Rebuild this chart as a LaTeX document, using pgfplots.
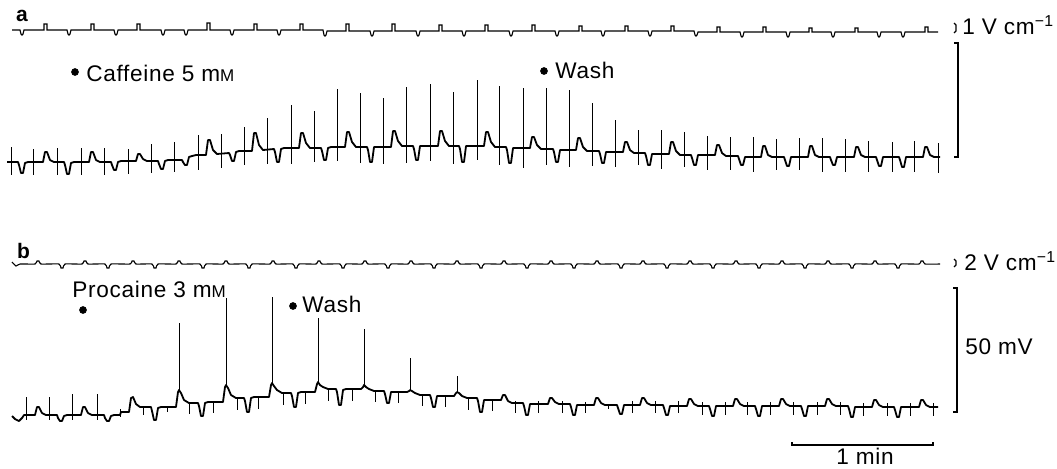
\documentclass[border=0pt]{standalone}
\usepackage{fontspec}
\setmainfont{Liberation Sans}[LetterSpace=3]
\usepackage{pgfplots}
\pgfplotsset{compat=1.18}
\newcommand{\mM}{m{\fontsize{8.5}{9}\selectfont M}}
\begin{document}
\begin{tikzpicture}
\begin{axis}[width=528.5pt, height=234pt, scale only axis, xmin=0, xmax=1057, ymin=0, ymax=468,
  y dir=reverse, axis lines=none, ticks=none, clip=false, enlargelimits=false]
\path (rel axis cs:0,0) rectangle (rel axis cs:1,1);
% ---------- panel a, top trace ----------
\addplot[black, line width=0.55pt] coordinates {
(12,30)(20,30)(21,34)(22,35)(23,34)(24,30)
(44,30)(44,24)(47,24)(47,30)
(67,30)(68,34)(69,35)(70,34)(71,30)
(91,30)(91,24)(94,24)(94,30)
(114,30)(115,34)(116,35)(117,34)(118,30)
(137,30)(137,24)(140,24)(140,30)
(161,30)(162,34)(163,35)(164,34)(165,30)
(184,30)(185,34)(186,35)(187,34)(188,30)
(207,30)(207,23)(210,23)(210,30)
(230,30)(231,34)(232,35)(233,34)(234,30)
(254,30)(254,24)(257,24)(257,30)
(277,30)(278,34)(279,35)(280,34)(281,30)
(300,30)(300,24)(303,24)(303,30)
(323,30)(324,35)(325,36)(326,35)(327,31)
(346,31)(346,24)(349,24)(349,31)
(370,31)(371,35)(372,36)(373,35)(374,31)
(392,31)(392,24)(395,24)(395,31)
(416,31)(417,35)(418,36)(419,35)(420,31)
(439,31)(439,25)(442,25)(442,31)
(462,31)(463,35)(464,36)(465,35)(466,31)
(485,31)(485,25)(488,25)(488,31)
(509,31)(510,35)(511,36)(512,35)(513,31)
(532,31)(532,25)(535,25)(535,31)
(555,31)(556,35)(557,36)(558,35)(559,31)
(579,31)(579,26)(582,26)(582,31)
(601,31)(602,35)(603,36)(604,35)(605,31)
(625,31)(625,26)(628,26)(628,31)
(648,31)(649,35)(650,36)(651,35)(652,31)
(671,31)(671,26)(674,26)(674,31)
(694,31)(695,35)(696,36)(697,35)(698,32)
(717,32)(717,27)(720,27)(720,32)
(740,32)(741,36)(742,37)(743,36)(744,32)
(763,32)(763,27)(766,27)(766,32)
(786,32)(787,36)(788,37)(789,36)(790,32)
(809,32)(809,28)(812,28)(812,32)
(831,32)(832,36)(833,37)(834,36)(835,32)
(855,32)(855,28)(858,28)(858,32)
(877,32)(878,36)(879,37)(880,36)(881,32)
(901,32)(902,36)(903,37)(904,36)(905,32)
(925,32)(925,27)(928,27)(928,32)
(938,32)};
% ---------- panel a, membrane trace ----------
\addplot[black, line width=0.9pt, line join=round] coordinates {
(7,162)
(18,162)(19,165)(21,173)(23,173)(25,163)(28,162)
(43,162)(45,152)(47,152)(50,160)(54,162)
(64,162)(65,165)(67,174)(69,174)(71,163)(74,162)
(89,162)(91,152)(93,152)(96,160)(100,162)
(111,162)(112,165)(114,170)(116,170)(118,162)(121,161)
(136,161)(138,154)(140,154)(143,159)(147,161)
(158,161)(159,164)(161,169)(163,169)(165,161)(168,160)
(182,160)(183,162)(185,165)(187,165)(189,157)(192,156)(196,155)
(206,155)(208,140)(210,140)(213,150)(217,154)
(229,153)(230,155)(232,161)(234,161)(236,152)(239,151)
(252,151)(254,133)(256,133)(259,145)(263,150)
(274,149)(275,152)(277,162)(279,162)(281,149)(284,148)
(299,148)(301,133)(303,133)(306,143)(310,148)
(321,148)(322,151)(324,160)(326,160)(328,148)(331,147)
(345,147)(347,132)(349,132)(352,142)(356,147)
(367,147)(368,150)(370,162)(372,162)(374,147)(377,147)
(391,147)(393,131)(395,131)(398,141)(402,146)
(413,146)(414,149)(416,160)(418,160)(420,146)(423,146)
(438,146)(440,131)(442,131)(445,141)(449,146)
(459,146)(460,149)(462,162)(464,162)(466,146)(469,146)
(484,146)(486,132)(488,132)(491,142)(495,147)
(506,147)(507,150)(509,163)(511,163)(513,148)(516,148)
(530,148)(532,137)(534,137)(537,145)(541,149)
(553,149)(554,152)(556,162)(558,162)(560,150)(563,150)
(576,150)(578,138)(580,138)(583,147)(587,151)
(599,151)(600,154)(602,163)(604,163)(606,152)(609,152)
(623,152)(625,142)(627,142)(630,150)(634,153)
(645,153)(646,156)(648,165)(650,165)(652,154)(655,154)
(669,154)(671,142)(673,142)(676,151)(680,155)
(691,155)(692,158)(694,165)(696,165)(698,155)(701,155)
(715,155)(717,145)(719,145)(722,153)(726,156)
(738,156)(739,159)(741,165)(743,165)(745,157)(748,157)
(761,157)(763,146)(765,146)(768,155)(772,157)
(784,157)(785,160)(787,166)(789,166)(791,157)(794,157)
(808,157)(810,146)(812,146)(815,155)(819,157)
(830,157)(831,160)(833,165)(835,165)(837,157)(840,157)
(854,157)(856,147)(858,147)(861,155)(865,157)
(876,157)(877,160)(879,166)(881,166)(883,157)(886,157)
(899,157)(900,160)(902,167)(904,167)(906,157)(909,157)
(923,157)(925,147)(927,147)(930,155)(934,157)
(940,157)};
% stimulus artefacts, panel a
\addplot[draw=none, mark=none, error bars/.cd, y dir=both, y explicit, error mark=none,
  error bar style={draw=black, solid, line width=0.45pt}] coordinates {
(11,162) += (0,13) -= (0,15)
(33,162) += (0,13) -= (0,13)
(57,162) += (0,13) -= (0,14)
(81,162) += (0,13) -= (0,14)
(104,162) += (0,13) -= (0,14)
(128,161) += (0,13) -= (0,12)
(151,161) += (0,12) -= (0,17)
(174,160) += (0,12) -= (0,18)
(198,155) += (0,15) -= (0,20)
(221,153) += (0,15) -= (0,19)
(244,151) += (0,14) -= (0,24)
(267,149) += (0,15) -= (0,31)
(291,148) += (0,16) -= (0,43)
(314,148) += (0,14) -= (0,37)
(337,147) += (0,14) -= (0,58)
(360,147) += (0,16) -= (0,54)
(383,147) += (0,17) -= (0,49)
(406,146) += (0,17) -= (0,59)
(430,146) += (0,15) -= (0,62)
(453,146) += (0,18) -= (0,54)
(477,146) += (0,14) -= (0,66)
(499,147) += (0,18) -= (0,61)
(523,148) += (0,20) -= (0,60)
(546,149) += (0,16) -= (0,61)
(569,150) += (0,17) -= (0,60)
(592,151) += (0,15) -= (0,48)
(615,152) += (0,15) -= (0,32)
(638,153) += (0,12) -= (0,23)
(661,154) += (0,15) -= (0,24)
(684,155) += (0,12) -= (0,23)
(707,155) += (0,15) -= (0,19)
(730,156) += (0,14) -= (0,19)
(753,157) += (0,15) -= (0,20)
(776,157) += (0,13) -= (0,18)
(799,157) += (0,13) -= (0,19)
(822,157) += (0,15) -= (0,19)
(845,157) += (0,15) -= (0,18)
(868,157) += (0,15) -= (0,16)
(892,157) += (0,15) -= (0,15)
(914,157) += (0,15) -= (0,16)
(938,157) += (0,16) -= (0,14)
};
% ---------- panel b, top trace ----------
\addplot[black, line width=0.55pt, smooth, tension=0.3] coordinates {
(12,262)(16,266)(20,264)
(35,264)(37,261)(39,261)(41,264)
(59,264)(61,268)(63,268)(65,264)
(82,264)(84,261)(86,261)(88,264)
(105,264)(107,268)(109,268)(111,264)
(130,264)(132,261)(134,261)(136,264)
(152,264)(154,268)(156,268)(158,264)
(176,264)(178,261)(180,261)(182,264)
(200,264)(202,268)(204,268)(206,264)
(223,264)(225,261)(227,261)(229,264)
(246,264)(248,268)(250,268)(252,264)
(270,264)(272,261)(274,261)(276,264)
(293,264)(295,268)(297,268)(299,264)
(316,264)(318,261)(320,261)(322,264)
(340,264)(342,268)(344,268)(346,264)
(362,264)(364,261)(366,261)(368,264)
(385,264)(387,268)(389,268)(391,264)
(408,264)(410,261)(412,261)(414,264)
(431,264)(433,268)(435,268)(437,264)
(454,264)(456,261)(458,261)(460,264)
(478,264)(480,268)(482,268)(484,264)
(501,264)(503,261)(505,261)(507,264)
(524,264)(526,268)(528,268)(530,264)
(548,264)(550,261)(552,261)(554,264)
(571,264)(573,268)(575,268)(577,264)
(594,264)(596,261)(598,261)(600,264)
(618,264)(620,268)(622,268)(624,264)
(640,264)(642,261)(644,261)(646,264)
(664,264)(666,268)(668,268)(670,264)
(687,264)(689,261)(691,261)(693,264)
(710,264)(712,268)(714,268)(716,264)
(733,264)(735,261)(737,261)(739,264)
(756,264)(758,268)(760,268)(762,264)
(779,264)(781,261)(783,261)(785,264)
(802,264)(804,268)(806,268)(808,264)
(825,264)(827,261)(829,261)(831,264)
(849,264)(851,268)(853,268)(855,264)
(872,264)(874,261)(876,261)(878,264)
(895,264)(897,268)(899,268)(901,264)
(919,264)(921,261)(923,261)(925,264)
(940,264)};
% ---------- panel b, membrane trace ----------
\addplot[black, line width=0.9pt, line join=round] coordinates {
(12,416)(15,419)(19,421)(22,418)(24,415)
(35,415)(37,407)(39,407)(42,413)(46,415)
(57,415)(58,418)(60,421)(62,421)(64,416)(67,415)
(81,415)(83,407)(85,407)(88,413)(92,415)
(104,415)(105,418)(107,421)(109,421)(111,416)(114,415)
(120,415)(121,412)
(129,412)(131,398)(133,397)(136,404)(140,407)
(151,407)(152,411)(154,420)(156,420)(158,408)(161,407)
(176,407)(178,392)(179,390)(181,393)(184,400)(189,403)
(198,403)(199,406)(201,416)(203,416)(205,403)(208,402)
(223,402)(225,387)(226,385)(228,388)(231,395)(236,398)
(244,398)(245,401)(247,412)(249,412)(251,398)(254,397)
(269,397)(271,385)(272,383)(274,386)(277,390)(282,393)
(291,393)(292,396)(294,407)(296,407)(298,393)(301,392)
(315,392)(317,384)(318,382)(320,385)(323,387)(328,389)
(336,389)(337,392)(339,405)(341,405)(343,390)(346,389)
(361,389)(363,387)(364,385)(366,387)(369,389)(374,391)
(384,391)(385,394)(387,403)(389,403)(391,392)(394,392)
(407,392)(409,391)(410,390)(412,391)(415,393)(420,395)
(430,395)(431,398)(433,407)(435,407)(437,396)(440,396)
(454,396)(456,393)(457,392)(459,393)(462,396)(467,398)
(477,398)(478,401)(480,412)(482,412)(484,400)(487,400)
(501,400)(503,395)(505,395)(508,401)(512,403)
(523,403)(524,406)(526,415)(528,415)(530,404)(533,404)
(548,404)(550,398)(552,398)(555,402)(559,404)
(570,404)(571,407)(573,415)(575,415)(577,405)(580,405)
(594,405)(596,398)(598,398)(601,403)(605,405)
(617,405)(618,408)(620,414)(622,414)(624,405)(627,405)
(640,405)(642,398)(644,398)(647,403)(651,405)
(663,405)(664,408)(666,415)(668,415)(670,406)(673,406)
(687,406)(689,399)(691,399)(694,404)(698,406)
(709,406)(710,409)(712,416)(714,416)(716,406)(719,406)
(733,406)(735,399)(737,399)(740,404)(744,406)
(755,406)(756,409)(758,416)(760,416)(762,406)(765,406)
(779,406)(781,399)(783,399)(786,404)(790,406)
(801,406)(802,409)(804,416)(806,416)(808,406)(811,406)
(825,406)(827,399)(829,399)(832,404)(836,406)
(848,406)(849,409)(851,417)(853,417)(855,407)(858,407)
(872,407)(874,400)(876,400)(879,405)(883,407)
(894,407)(895,410)(897,417)(899,417)(901,407)(904,407)
(919,407)(921,400)(923,400)(926,405)(930,407)
(938,407)};
% artefacts and spikes, panel b
\addplot[draw=none, mark=none, error bars/.cd, y dir=both, y explicit, error mark=none,
  error bar style={draw=black, solid, line width=0.45pt}] coordinates {
(26,415) += (0,5) -= (0,18)
(49,415) += (0,5) -= (0,18)
(72,415) += (0,5) -= (0,21)
(97,415) += (0,5) -= (0,21)
(120,413) += (0,4) -= (0,4)
(143,407) += (0,8) -= (0,1)
(167,407) += (0,5) -= (0,0)
(189,403) += (0,11) -= (0,1)
(213,402) += (0,11) -= (0,1)
(237,398) += (0,12) -= (0,1)
(258,397) += (0,12) -= (0,1)
(283,393) += (0,12) -= (0,1)
(305,392) += (0,12) -= (0,1)
(328,389) += (0,12) -= (0,1)
(352,389) += (0,12) -= (0,1)
(375,391) += (0,11) -= (0,1)
(398,392) += (0,11) -= (0,1)
(422,395) += (0,11) -= (0,1)
(445,396) += (0,11) -= (0,1)
(468,398) += (0,12) -= (0,1)
(492,400) += (0,11) -= (0,1)
(515,403) += (0,10) -= (0,2)
(538,404) += (0,9) -= (0,3)
(562,404) += (0,9) -= (0,3)
(585,405) += (0,8) -= (0,3)
(608,405) += (0,4) -= (0,0)
(632,405) += (0,8) -= (0,4)
(655,405) += (0,8) -= (0,4)
(678,405) += (0,8) -= (0,4)
(702,406) += (0,9) -= (0,4)
(725,406) += (0,9) -= (0,4)
(747,406) += (0,9) -= (0,4)
(770,406) += (0,9) -= (0,4)
(793,406) += (0,9) -= (0,4)
(817,406) += (0,9) -= (0,4)
(840,406) += (0,9) -= (0,4)
(863,407) += (0,9) -= (0,4)
(887,407) += (0,9) -= (0,4)
(910,407) += (0,9) -= (0,4)
(933,407) += (0,9) -= (0,4)
(179,390) += (0,0) -= (0,67)
(226,385) += (0,0) -= (0,87)
(272,383) += (0,0) -= (0,86)
(318,382) += (0,0) -= (0,64)
(364,385) += (0,0) -= (0,56)
(410,390) += (0,0) -= (0,32)
(457,392) += (0,0) -= (0,16)
};
% ---------- calibration bars ----------
\addplot[black, line width=0.6pt] coordinates {(954,23)(956,25)(956,31)(954,33)};
\addplot[black, line width=0.7pt] coordinates {(954,43)(958,43)(958,157)(954,157)};
\addplot[black, line width=0.6pt] coordinates {(954,259)(956,261)(956,265)(954,267)};
\addplot[black, line width=0.7pt] coordinates {(953,288)(957,288)(957,412)(953,412)};
\addplot[black, line width=0.7pt] coordinates {(792,442)(792,445)(933,445)(933,442)};
% ---------- event markers ----------
\addplot[only marks, mark=*, mark size=1.7pt, black] coordinates {(75,72)(544,71)(83,310)(293,306)};
% ---------- text ----------
\node[anchor=base west, font=\bfseries\fontsize{10.5}{12}\selectfont] at (axis cs:9,21) {a};
\node[anchor=base west, font=\bfseries\fontsize{10.5}{12}\selectfont] at (axis cs:10,258) {b};
\node[anchor=base west, inner sep=0pt, font=\fontsize{11.3}{13}\selectfont] at (axis cs:86,81) {Caffeine 5 \mM};
\node[anchor=base west, inner sep=0pt, font=\fontsize{11.3}{13}\selectfont] at (axis cs:555,78) {Wash};
\node[anchor=base west, inner sep=0pt, font=\fontsize{11.3}{13}\selectfont] at (axis cs:72,297) {Procaine 3 \mM};
\node[anchor=base west, inner sep=0pt, font=\fontsize{11.3}{13}\selectfont] at (axis cs:302,312) {Wash};
\node[anchor=base west, inner sep=0pt, font=\fontsize{11.3}{13}\selectfont] at (axis cs:962,34) {1 V cm\textsuperscript{−1}};
\node[anchor=base west, inner sep=0pt, font=\fontsize{11.3}{13}\selectfont] at (axis cs:964,270) {2 V cm\textsuperscript{−1}};
\node[anchor=base west, inner sep=0pt, font=\fontsize{11.3}{13}\selectfont] at (axis cs:965,354) {50 mV};
\node[anchor=base, inner sep=0pt, font=\fontsize{11.3}{13}\selectfont] at (axis cs:865,464) {1 min};
\end{axis}
\end{tikzpicture}
\end{document}
